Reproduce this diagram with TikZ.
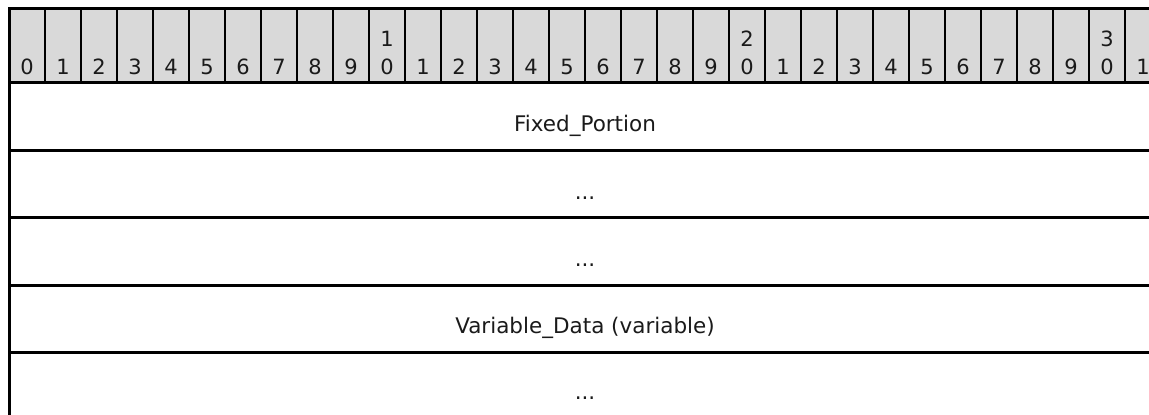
\documentclass[tikz,border=0pt]{standalone}
\usepackage{fontspec}
\setmainfont{DejaVu Sans}
\definecolor{hdrgray}{HTML}{D9D9D9}
\definecolor{txt}{HTML}{1A1A1A}
\begin{document}
\begin{tikzpicture}[x=1pt,y=-1pt,
  digit/.style={anchor=base, inner sep=0pt, font=\fontsize{21}{24}\selectfont, text=txt},
  fld/.style={anchor=base, inner sep=0pt, font=\fontsize{21.5}{24}\selectfont, text=txt},
  rule/.style={line width=3pt, line cap=rect},
  sep/.style={line width=2pt}]
\useasboundingbox (0,0) rectangle (1149,415);
\clip (0,0) rectangle (1149,415);
% header band
\fill[hdrgray] (9,8) rectangle (1161,82.5);
\foreach \k in {1,...,31} {
  \draw[sep] ({9+36*\k},8) -- ({9+36*\k},82.5);
}
% bit numbers (units digit of each bit position)
\foreach \k in {0,...,31} {
  \pgfmathtruncatemacro{\u}{mod(\k,10)}
  \node[digit] (h\k) at ({27+36*\k},74) {\u};
}
% tens digits, shown only at 10, 20 and 30
\foreach \k/\t in {10/1,20/2,30/3} {
  \node[digit] (t\k) at ({27+36*\k},46) {\t};
}
% outer and row rules
\draw[rule] (9,8) -- (1161,8);
\draw[rule] (9,82.5) -- (1161,82.5);
\draw[rule] (9,150) -- (1161,150);
\draw[rule] (9,217.5) -- (1161,217.5);
\draw[rule] (9,285) -- (1161,285);
\draw[rule] (9,352) -- (1161,352);
\draw[line width=3pt] (9,8) -- (9,420);
% field labels
\node[fld] (r1) at (585,131.5) {Fixed\_Portion};
\node[fld] (r2) at (585,199) {...};
\node[fld] (r3) at (585,266) {...};
\node[fld] (r4) at (585,333) {Variable\_Data (variable)};
\node[fld] (r5) at (585,399) {...};
\end{tikzpicture}
\end{document}
